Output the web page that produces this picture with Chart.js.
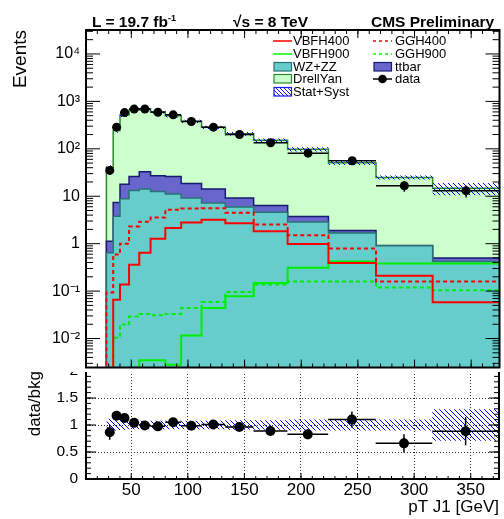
<!DOCTYPE html>
<html><head><meta charset="utf-8">
<script src="https://cdn.jsdelivr.net/npm/chart.js@4/dist/chart.umd.min.js"></script>
<style>
html,body{margin:0;padding:0;background:#fff;}
#wrap{position:relative;width:504px;height:519px;overflow:hidden;font-family:"Liberation Sans",Arial,sans-serif;color:#000;}
#cMain{position:absolute;left:0;top:0;z-index:2;background:#fff;}
#cRatio{position:absolute;left:0;top:355px;z-index:1;}
.hdr{position:absolute;top:14px;font-weight:bold;font-size:15.5px;line-height:15px;white-space:nowrap;z-index:3;}
.hdr sup{font-size:9px;vertical-align:6px;line-height:0;}
.lg{position:absolute;font-size:13px;line-height:13px;white-space:nowrap;z-index:3;}
#legendSvg{position:absolute;left:0;top:0;z-index:3;}
</style>
</head><body>
<div id="wrap">
<canvas id="cMain" width="504" height="372"></canvas>
<canvas id="cRatio" width="504" height="164"></canvas>
<div class="hdr" style="left:92px">L = 19.7 fb<sup>-1</sup></div>
<div class="hdr" style="left:233px">√s = 8 TeV</div>
<div class="hdr" style="left:371px">CMS Preliminary</div>
<svg id="legendSvg" width="504" height="110">
 <defs>
  <pattern id="hatchL" patternUnits="userSpaceOnUse" width="4" height="4">
   <path d="M-1,-1 L5,5 M-5,-1 L1,5 M3,-1 L9,5" stroke="#0000ff" stroke-width="0.9"/>
  </pattern>
 </defs>
 <line x1="273" y1="41" x2="292" y2="41" stroke="#ff0000" stroke-width="1.5"/>
 <line x1="373" y1="41" x2="392" y2="41" stroke="#ff0000" stroke-width="1.5" stroke-dasharray="3,3"/>
 <line x1="273" y1="54" x2="292" y2="54" stroke="#00ff00" stroke-width="1.5"/>
 <line x1="373" y1="54" x2="392" y2="54" stroke="#00ff00" stroke-width="1.5" stroke-dasharray="3,3"/>
 <rect x="274" y="62.5" width="17.5" height="8.5" fill="#66cccc" stroke="#2a7373" stroke-width="1.2"/>
 <rect x="374" y="62.5" width="17.5" height="8.5" fill="#6666cc" stroke="#1a1a70" stroke-width="1.2"/>
 <rect x="274" y="74.5" width="17.5" height="8.5" fill="#ccffcc" stroke="#2a8a2a" stroke-width="1.2"/>
 <line x1="373" y1="79" x2="392" y2="79" stroke="#000" stroke-width="1.5"/>
 <circle cx="382.5" cy="79" r="4.3" fill="#000"/>
 <rect x="274" y="87.5" width="17.5" height="8.5" fill="url(#hatchL)" stroke="#1a1aff" stroke-width="1.2"/>
</svg>
<div class="lg" style="left:293px;top:34px">VBFH400</div>
<div class="lg" style="left:395px;top:34px">GGH400</div>
<div class="lg" style="left:293px;top:47px">VBFH900</div>
<div class="lg" style="left:395px;top:47px">GGH900</div>
<div class="lg" style="left:293px;top:60px">WZ+ZZ</div>
<div class="lg" style="left:395px;top:60px">ttbar</div>
<div class="lg" style="left:293px;top:72px">DrellYan</div>
<div class="lg" style="left:395px;top:72px">data</div>
<div class="lg" style="left:293px;top:85px">Stat+Syst</div>
</div>
<script>
// ---------------- data ----------------
const binEdges  = [28, 34, 40, 48, 57, 67, 80, 94, 112, 133, 158, 188, 224, 266, 316, 375];
const wzzz      = [0.64, 3.8, 8.9, 13.2, 14.2, 12.6, 11.1, 9.2, 7.2, 5.9, 4.6, 2.86, 1.68, 0.90, 0.42];
const ttbar     = [0.48, 3.6, 9.1, 12.8, 18.8, 14.4, 14.9, 9.4, 7.0, 3.3, 1.8, 0.9, 0.22, 0.01, 0.08];
const drellYan  = [39.4, 236, 496, 633, 664, 578, 469, 362, 269, 199, 145, 94, 49, 24, 14.2];
const vbfh400   = [0, 0.066, 0.137, 0.36, 0.64, 1.27, 2.14, 2.8, 3.2, 2.7, 1.82, 0.98, 0.39, 0.21, 0.058];
const ggh400    = [0.094, 0.59, 1.0, 2.3, 2.9, 3.55, 5.2, 5.5, 5.6, 4.5, 2.55, 1.5, 0.79, 0.16, 0.16];
const vbfh900   = [0, 0, 0, 0, 0.0035, 0.0035, 0.0028, 0.0116, 0.044, 0.078, 0.148, 0.31, 0.42, 0.38, 0.38];
const ggh900    = [0, 0.0104, 0.0197, 0.029, 0.033, 0.031, 0.033, 0.044, 0.059, 0.096, 0.137, 0.16, 0.16, 0.119, 0.104];
const dataVals  = [35, 286, 581, 688, 690, 590, 520, 376, 286, 200, 134, 81, 56, 16.6, 13];
const dataErr   = [7, 17, 24, 26, 26, 24, 23, 19, 17, 14, 12, 9, 7.5, 4.1, 3.6];
const ratioVals = [0.865, 1.17, 1.13, 1.04, 0.99, 0.975, 1.05, 0.987, 1.01, 0.963, 0.889, 0.827, 1.10, 0.66, 0.883];
const ratioErr  = [0.14, 0.07, 0.05, 0.04, 0.04, 0.04, 0.05, 0.05, 0.06, 0.07, 0.08, 0.09, 0.15, 0.17, 0.26];
const systRel   = [0.115, 0.10, 0.09, 0.08, 0.08, 0.08, 0.08, 0.08, 0.08, 0.09, 0.09, 0.10, 0.10, 0.10, 0.29];
const xTickValues      = [50, 100, 150, 200, 250, 300, 350];
const mainYTickValues  = [0.01, 0.1, 1, 10, 100, 1000, 10000];
const mainYTickLabels  = ['10⁻²', '10⁻¹', '1', '10', '10²', '10³', '10⁴'];
const ratioYTickValues = [0, 0.5, 1, 1.5, 2];
const ratioYTickLabels = ['0', '0.5', '1', '1.5', '2'];

// ---------------- helpers ----------------
const X_MIN = 10, X_MAX = 375, Y_MIN = 0.00245, Y_MAX = 32000, FLOOR = 0.0005;
const FONT = '"Liberation Sans", Arial, sans-serif';
const nb = binEdges.length - 1;
const lo = binEdges.slice(0, nb), hi = binEdges.slice(1);
const centers = lo.map((e, i) => (e + hi[i]) / 2);
const cumTT = wzzz.map((v, i) => v + ttbar[i]);
const total = cumTT.map((v, i) => v + drellYan[i]);

function hist(vals, floor) {
  const pts = [{x: binEdges[0], y: floor}];
  vals.forEach((v, i) => pts.push({x: binEdges[i], y: v > 0 ? v : floor}));
  const last = vals[nb - 1];
  pts.push({x: binEdges[nb], y: last > 0 ? last : floor});
  return pts;
}
function errSegs(ys, yerr) {
  const pts = [];
  for (let i = 0; i < nb; i++) {
    pts.push({x: lo[i], y: ys[i]}, {x: hi[i], y: ys[i]}, {x: hi[i], y: null});
    pts.push({x: centers[i], y: ys[i] - yerr[i]}, {x: centers[i], y: ys[i] + yerr[i]}, {x: centers[i], y: null});
  }
  return pts;
}
function makeHatch(ctx) {
  const n = 5;
  const c = document.createElement('canvas'); c.width = n; c.height = n;
  const g = c.getContext('2d');
  g.strokeStyle = '#0000ff'; g.lineWidth = 1;
  g.beginPath();
  g.moveTo(-1, -1); g.lineTo(n + 1, n + 1);
  g.moveTo(-n - 1, -1); g.lineTo(1, n + 1);
  g.moveTo(n - 1, -1); g.lineTo(2 * n + 1, n + 1);
  g.stroke();
  return ctx.createPattern(c, 'repeat');
}
function range(a, b, s) { const r = []; for (let v = a; v <= b + 1e-9; v += s) r.push(+v.toFixed(6)); return r; }
const logMinor = [];
for (let d = -3; d <= 4; d++) for (let k = 2; k <= 9; k++) logMinor.push(k * Math.pow(10, d));

// frame + inward ticks on all sides (positions from the chart's own scales)
const frameTicks = {
  id: 'frameTicks',
  afterDatasetsDraw(chart, args, o) {
    const {ctx, chartArea: a} = chart;
    const xs = chart.scales.x, ys = chart.scales.y;
    ctx.save();
    ctx.strokeStyle = '#000'; ctx.lineWidth = 1;
    const seg = (x1, y1, x2, y2) => { ctx.beginPath(); ctx.moveTo(x1, y1); ctx.lineTo(x2, y2); ctx.stroke(); };
    const yT = (vals, len) => vals.forEach(v => { const p = ys.getPixelForValue(v); if (p < a.top || p > a.bottom) return; seg(a.left, p, a.left + len, p); seg(a.right, p, a.right - len, p); });
    const xT = (vals, len) => vals.forEach(v => { const p = xs.getPixelForValue(v); if (p < a.left || p > a.right) return; seg(p, a.bottom, p, a.bottom - len); if (o.top) seg(p, a.top, p, a.top + len); });
    yT(o.yMajor, o.yMajLen); yT(o.yMinor, o.yMinLen);
    xT(o.xMajor, o.xMajLen); xT(o.xMinor, o.xMinLen);
    ctx.lineWidth = 2;
    ctx.strokeRect(a.left, a.top, a.right - a.left, a.bottom - a.top);
    ctx.restore();
  }
};
const noPadY = s => { s.width = 86; s.paddingTop = 0; s.paddingBottom = 0; };

// ---------------- main panel ----------------
const mctx = document.getElementById('cMain').getContext('2d');
const hatchM = makeHatch(mctx);
const step = (label, vals, color, opts) => Object.assign({
  label, data: hist(vals, FLOOR), stepped: true, borderColor: color, borderWidth: 2,
  pointRadius: 0, fill: false, backgroundColor: 'transparent', tension: 0
}, opts || {});

new Chart(mctx, {
  type: 'line',
  data: {
    datasets: [
      step('DrellYan', total, '#2a8a2a', {fill: 'start', backgroundColor: '#ccffcc', borderWidth: 1.5, order: 10}),
      step('ttbar', cumTT, '#1a1a70', {fill: 'start', backgroundColor: '#6666cc', borderWidth: 1.5, order: 9}),
      step('WZ+ZZ', wzzz, '#2a7373', {fill: 'start', backgroundColor: '#66cccc', borderWidth: 1.5, order: 8}),
      step('VBFH400', vbfh400, '#ff0000', {order: 5}),
      step('GGH400', ggh400, '#ff0000', {borderDash: [4, 3], order: 5}),
      step('VBFH900', vbfh900, '#00ee00', {order: 5}),
      step('GGH900', ggh900, '#00ee00', {borderDash: [4, 3], order: 5}),
      step('Stat+Syst up', total.map((v, i) => v * (1 + systRel[i])), 'rgba(0,0,0,0)', {borderWidth: 0, order: 4}),
      step('Stat+Syst', total.map((v, i) => v * (1 - systRel[i])), 'rgba(0,0,0,0)', {borderWidth: 0, fill: '-1', backgroundColor: hatchM, order: 4}),
      {label: 'data err', data: errSegs(dataVals, dataErr), borderColor: '#000', borderWidth: 1.5, pointRadius: 0, spanGaps: false, fill: false, order: 1},
      {label: 'data', data: dataVals.map((v, i) => ({x: centers[i], y: v})), showLine: false, pointRadius: 4.5, pointBackgroundColor: '#000', pointBorderWidth: 0, order: 0}
    ]
  },
  options: {
    responsive: false, animation: false, devicePixelRatio: 1,
    layout: {padding: {top: 30, right: 4, bottom: 1, left: 0}},
    plugins: {
      legend: {display: false}, tooltip: {enabled: false},
      frameTicks: {top: true, xMajor: xTickValues, xMinor: range(10, 370, 10), xMajLen: 8, xMinLen: 4,
                   yMajor: mainYTickValues, yMinor: logMinor, yMajLen: 14, yMinLen: 7}
    },
    scales: {
      x: {type: 'linear', min: X_MIN, max: X_MAX, display: true,
          ticks: {display: false}, grid: {display: false, drawTicks: false}, border: {display: false},
          afterFit: s => { s.height = 0; s.paddingLeft = 0; s.paddingRight = 0; }},
      y: {type: 'logarithmic', min: Y_MIN, max: Y_MAX,
          afterBuildTicks: s => { s.ticks = mainYTickValues.map(v => ({value: v})); },
          afterFit: noPadY,
          ticks: {autoSkip: false, padding: 6, color: '#000', font: {family: FONT, size: 16},
                  callback: (v, i) => mainYTickLabels[i]},
          grid: {display: false, drawTicks: false}, border: {display: false},
          title: {display: true, text: 'Events', align: 'end', color: '#000',
                  font: {family: FONT, size: 19}, padding: {top: 9, bottom: 0}}}
    }
  },
  plugins: [frameTicks]
});

// ---------------- ratio panel ----------------
const rctx = document.getElementById('cRatio').getContext('2d');
const hatchR = makeHatch(rctx);
const rstep = (label, vals, opts) => Object.assign({
  label, data: hist(vals, 1), stepped: true, borderColor: 'rgba(0,0,0,0)', borderWidth: 0,
  pointRadius: 0, fill: false, tension: 0
}, opts || {});
new Chart(rctx, {
  type: 'line',
  data: {
    datasets: [
      rstep('band up', systRel.map(r => 1 + r), {order: 4}),
      rstep('band', systRel.map(r => 1 - r), {fill: '-1', backgroundColor: hatchR, order: 4}),
      {label: 'ratio err', data: errSegs(ratioVals, ratioErr), borderColor: '#000', borderWidth: 1.5, pointRadius: 0, spanGaps: false, fill: false, order: 1},
      {label: 'ratio', data: ratioVals.map((v, i) => ({x: centers[i], y: v})), showLine: false, pointRadius: 5, pointBackgroundColor: '#000', pointBorderWidth: 0, order: 0}
    ]
  },
  options: {
    responsive: false, animation: false, devicePixelRatio: 1,
    layout: {padding: {top: 16, right: 4, bottom: 3, left: 0}},
    plugins: {
      legend: {display: false}, tooltip: {enabled: false},
      frameTicks: {top: false, xMajor: xTickValues, xMinor: range(10, 370, 10), xMajLen: 6, xMinLen: 3,
                   yMajor: ratioYTickValues, yMinor: range(0, 2, 0.1), yMajLen: 10, yMinLen: 5}
    },
    scales: {
      x: {type: 'linear', min: X_MIN, max: X_MAX,
          afterBuildTicks: s => { s.ticks = xTickValues.map(v => ({value: v})); },
          afterFit: s => { s.height = 37; s.paddingLeft = 0; s.paddingRight = 0; },
          ticks: {autoSkip: false, maxRotation: 0, padding: 3, color: '#000', font: {family: FONT, size: 17, lineHeight: 1}},
          grid: {display: true, drawTicks: false, color: '#333', lineWidth: 1},
          border: {display: false, dash: [1, 2]},
          title: {display: true, text: 'pT J1 [GeV]', align: 'end', color: '#000',
                  font: {family: FONT, size: 17, lineHeight: 1}, padding: {top: 2, bottom: 0}}},
      y: {type: 'linear', min: 0, max: 2,
          afterBuildTicks: s => { s.ticks = ratioYTickValues.map(v => ({value: v})); },
          afterFit: noPadY,
          ticks: {autoSkip: false, padding: 8, color: '#000', font: {family: FONT, size: 15.5},
                  callback: (v, i) => ratioYTickLabels[i]},
          grid: {display: true, drawTicks: false, color: '#333', lineWidth: 1},
          border: {display: false, dash: [1, 2]},
          title: {display: true, text: 'data/bkg', align: 'end', color: '#000',
                  font: {family: FONT, size: 17}, padding: {top: 25, bottom: 0}}}
    }
  },
  plugins: [frameTicks]
});
</script>
</body></html>
